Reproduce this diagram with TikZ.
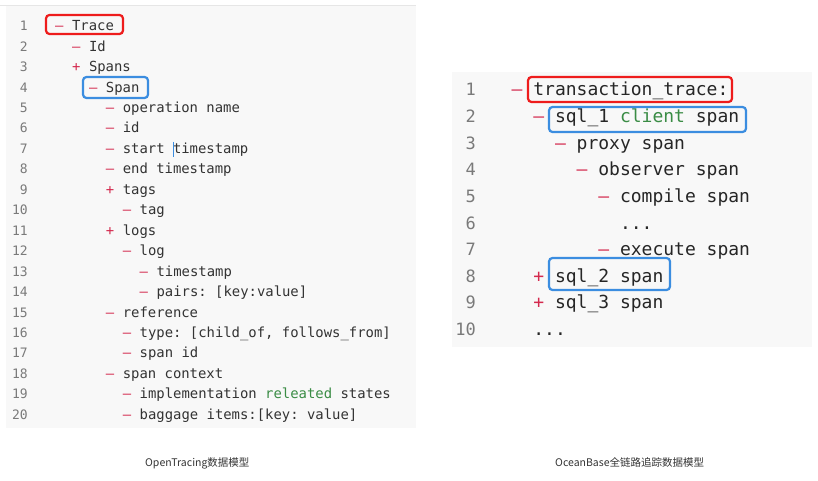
\documentclass[tikz,border=0pt]{standalone}
\usepackage{fontspec}
\setmonofont{DejaVu Sans Mono}
\newfontfamily\cjk{Noto Sans CJK SC}
\definecolor{mk}{HTML}{D42A4E}
\definecolor{txt}{HTML}{333333}
\definecolor{num}{HTML}{7A7A7A}
\definecolor{grn}{HTML}{3A8C45}
\definecolor{boxred}{HTML}{EE1C1C}
\definecolor{boxblue}{HTML}{3B8DE0}
\definecolor{panel}{HTML}{F8F8F8}
\definecolor{panelline}{HTML}{E6E6E6}
\tikzset{
  lcode/.style={anchor=base west, inner sep=0pt, text=txt, font=\ttfamily\fontsize{13.9}{15}\selectfont},
  lnum/.style={anchor=base east, inner sep=0pt, text=num, font=\ttfamily\fontsize{13}{15}\selectfont},
  rcode/.style={anchor=base west, inner sep=0pt, text=txt!75!black, font=\ttfamily\fontsize{18}{20}\selectfont},
  rnum/.style={anchor=base east, inner sep=0pt, text=num, font=\ttfamily\fontsize{17}{20}\selectfont},
  hlred/.style={draw=boxred, line width=2.2pt, rounded corners=3.5pt},
  hlblue/.style={draw=boxblue, line width=2.2pt, rounded corners=3.5pt},
  captext/.style={anchor=base west, inner sep=0pt, text=black!80, font=\cjk\fontsize{10.5}{12}\selectfont},
}
\newcommand\Lrow[4]{%
  \node[lnum] (ln#1) at (28,{30.7+(#1-1)*20.45}) {#1};
  \node[lcode,text=mk] (lm#1) at ({55+16.9*#2},{30.7+(#1-1)*20.45}) {#3};
  \node[lcode] (lt#1) at ({55+16.9*#2+16.9},{30.7+(#1-1)*20.45}) {#4};}
\newcommand\Rrow[4]{%
  \node[rnum] (rn#1) at (476,{96+(#1-1)*26.6}) {#1};
  \node[rcode,text=mk] (rm#1) at ({511.5+21.66*#2},{96+(#1-1)*26.6}) {#3};
  \node[rcode] (rt#1) at ({511.5+21.66*#2+21.66},{96+(#1-1)*26.6}) {#4};}
\begin{document}
\begin{tikzpicture}[x=1pt,y=-1pt]
\useasboundingbox (0,0) rectangle (818,481);
\fill[white] (0,0) rectangle (818,481);
% panels
\fill[panel] (6,6) rectangle (416,428);
\draw[panelline, line width=1pt] (0,6) -- (416,6);
\fill[panel] (452,72) rectangle (812,347);
% left listing
\Lrow{1}{0}{–}{Trace}
\Lrow{2}{1}{–}{Id}
\Lrow{3}{1}{+}{Spans}
\Lrow{4}{2}{–}{Span}
\Lrow{5}{3}{–}{operation name}
\Lrow{6}{3}{–}{id}
\Lrow{7}{3}{–}{start timestamp}
\Lrow{8}{3}{–}{end timestamp}
\Lrow{9}{3}{+}{tags}
\Lrow{10}{4}{–}{tag}
\Lrow{11}{3}{+}{logs}
\Lrow{12}{4}{–}{log}
\Lrow{13}{5}{–}{timestamp}
\Lrow{14}{5}{–}{pairs: [key:value]}
\Lrow{15}{3}{–}{reference}
\Lrow{16}{4}{–}{type: [child\_of, follows\_from]}
\Lrow{17}{4}{–}{span id}
\Lrow{18}{3}{–}{span context}
\Lrow{19}{4}{–}{implementation \textcolor{grn}{releated} states}
\Lrow{20}{4}{–}{baggage items:[key: value]}
% text cursor
\draw[boxblue, line width=0.8pt] (173.5,142) -- (173.5,157);
% left highlight boxes
\draw[hlred] (46,15) rectangle (123,34);
\draw[hlblue] (83,77) rectangle (148,98);
% right listing
\Rrow{1}{0}{–}{transaction\_trace:}
\Rrow{2}{1}{–}{sql\_1 \textcolor{grn}{client} span}
\Rrow{3}{2}{–}{proxy span}
\Rrow{4}{3}{–}{observer span}
\Rrow{5}{4}{–}{compile span}
\Rrow{6}{4}{}{...}
\Rrow{7}{4}{–}{execute span}
\Rrow{8}{1}{+}{sql\_2 span}
\Rrow{9}{1}{+}{sql\_3 span}
\Rrow{10}{0}{}{...}
% right highlight boxes
\draw[hlred] (528,77) rectangle (732,102);
\draw[hlblue] (549,107) rectangle (746,132);
\draw[hlblue] (549,258) rectangle (670,290);
% captions
\node[captext] (capl) at (145,466) {OpenTracing数据模型};
\node[captext] (capr) at (555,466) {OceanBase全链路追踪数据模型};
\end{tikzpicture}
\end{document}
